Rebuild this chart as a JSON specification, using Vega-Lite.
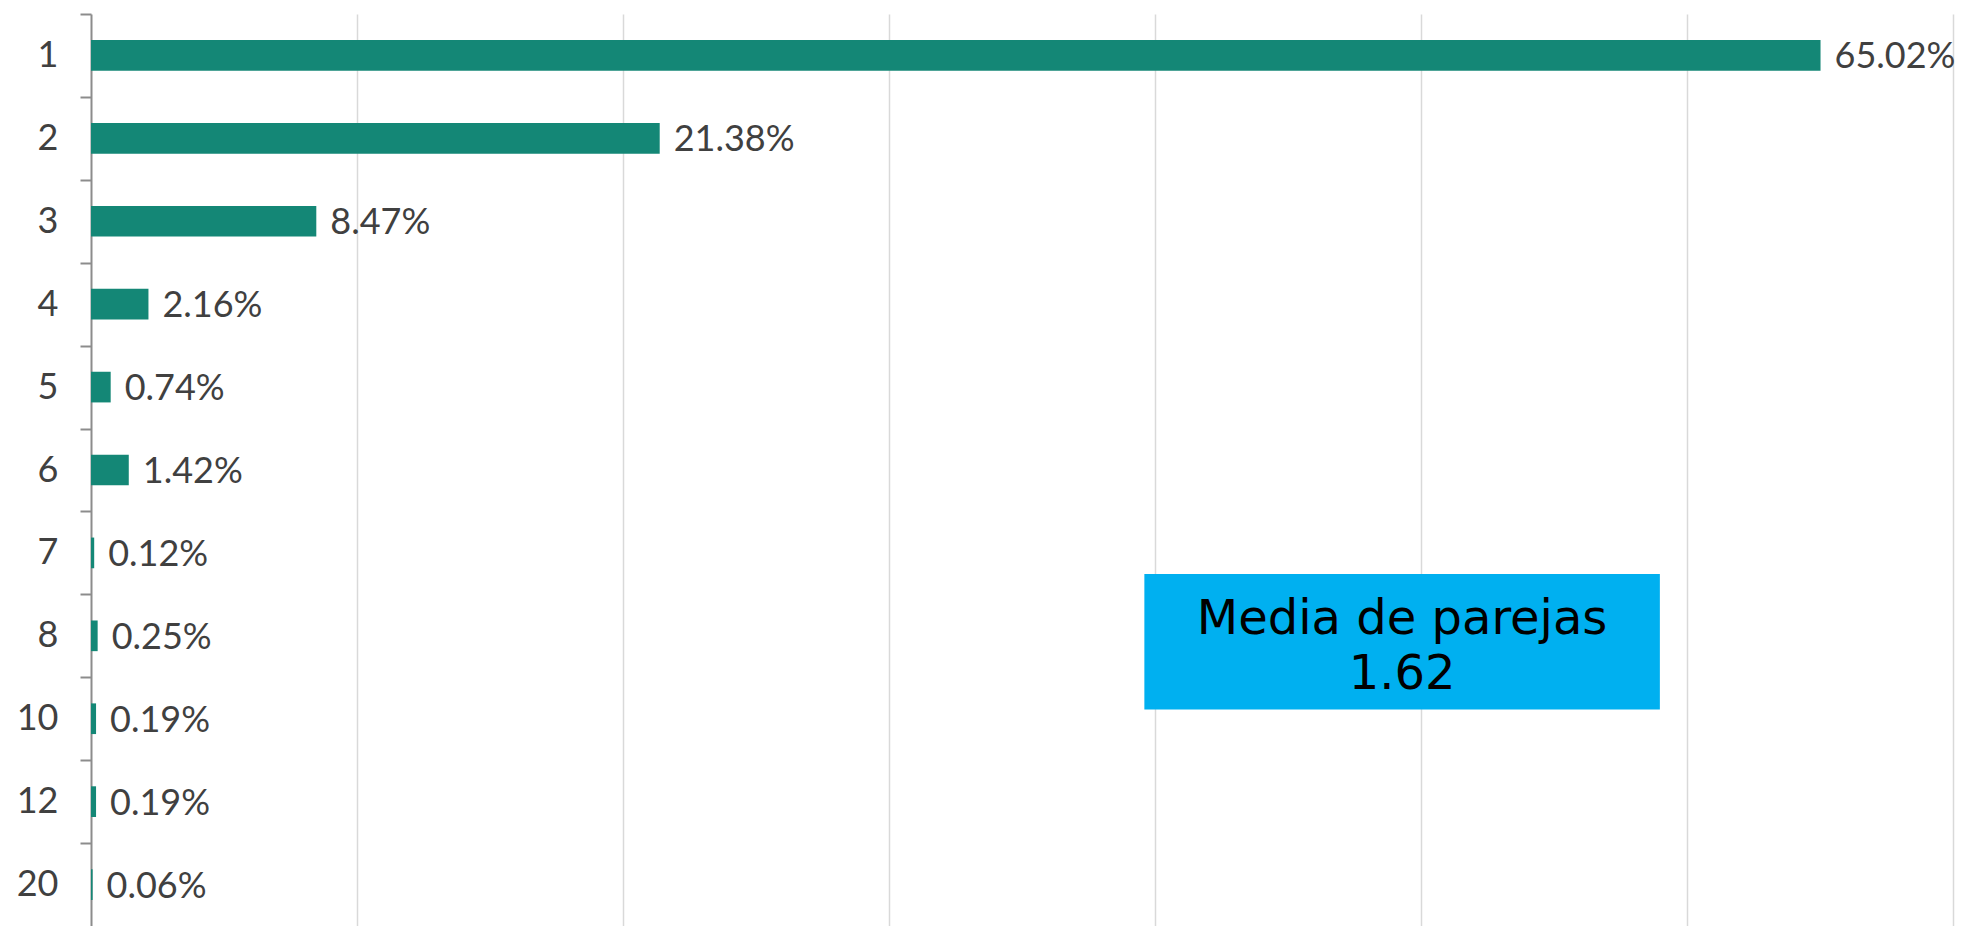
{
  "$schema": "https://vega.github.io/schema/vega-lite/v6.json",
  "autosize": "none",
  "width": 1862,
  "height": 912,
  "padding": {"left": 91, "top": 14, "right": 16, "bottom": 0},
  "background": "white",
  "config": {
    "view": {"stroke": null},
    "font": "Lato",
    "text": {"font": "Lato"}
  },
  "layer": [
    {
      "data": {
        "values": [
          {"parejas": "1", "pct": 65.02, "label": "65.02%"},
          {"parejas": "2", "pct": 21.38, "label": "21.38%"},
          {"parejas": "3", "pct": 8.47, "label": "8.47%"},
          {"parejas": "4", "pct": 2.16, "label": "2.16%"},
          {"parejas": "5", "pct": 0.74, "label": "0.74%"},
          {"parejas": "6", "pct": 1.42, "label": "1.42%"},
          {"parejas": "7", "pct": 0.12, "label": "0.12%"},
          {"parejas": "8", "pct": 0.25, "label": "0.25%"},
          {"parejas": "10", "pct": 0.19, "label": "0.19%"},
          {"parejas": "12", "pct": 0.19, "label": "0.19%"},
          {"parejas": "20", "pct": 0.06, "label": "0.06%"}
        ]
      },
      "encoding": {
        "y": {
          "field": "parejas",
          "type": "nominal",
          "sort": null,
          "scale": {"paddingInner": 0.63, "paddingOuter": 0.315},
          "axis": {
            "title": null,
            "tickBand": "center",
            "tickOffset": -41.45,
            "labelOffset": 41.45,
            "tickSize": 11,
            "tickColor": "#8c8c8c",
            "tickWidth": 2,
            "domainColor": "#8c8c8c",
            "domainWidth": 2,
            "labelFont": "Lato",
            "labelFontSize": 36,
            "labelColor": "#404040",
            "labelPadding": 22,
            "grid": false
          }
        },
        "x": {
          "field": "pct",
          "type": "quantitative",
          "scale": {"domain": [0, 70], "nice": false},
          "axis": {
            "title": null,
            "labels": false,
            "ticks": false,
            "domain": false,
            "grid": true,
            "values": [10, 20, 30, 40, 50, 60, 70],
            "gridColor": "#d9d9d9",
            "gridWidth": 1.5
          }
        }
      },
      "layer": [
        {"mark": {"type": "bar", "color": "#148776"}},
        {
          "mark": {
            "type": "text",
            "align": "left",
            "baseline": "middle",
            "dx": 14,
            "dy": 2,
            "font": "Lato",
            "fontSize": 36,
            "color": "#404040"
          },
          "encoding": {"text": {"field": "label"}}
        }
      ]
    },
    {
      "data": {
        "values": [
          {"x1": 39.6, "x2": 58.98, "y1": 6.755, "y2": 8.39}
        ]
      },
      "mark": {"type": "rect", "color": "#00B0F0"},
      "encoding": {
        "x": {"field": "x1", "type": "quantitative"},
        "x2": {"field": "x2"},
        "y": {"field": "y1", "type": "quantitative", "scale": {"domain": [0, 11], "reverse": true, "nice": false, "zero": false}, "axis": null},
        "y2": {"field": "y2"}
      }
    },
    {
      "data": {
        "values": [
          {"tx": 49.29, "ty": 7.48, "t": "Media de parejas"},
          {"tx": 49.29, "ty": 8.14, "t": "1.62"}
        ]
      },
      "mark": {"type": "text", "align": "center", "baseline": "alphabetic", "font": "DejaVu Sans", "fontSize": 48, "color": "#000000"},
      "encoding": {
        "x": {"field": "tx", "type": "quantitative"},
        "y": {"field": "ty", "type": "quantitative", "scale": {"domain": [0, 11], "reverse": true, "nice": false, "zero": false}, "axis": null},
        "text": {"field": "t"}
      }
    }
  ],
  "resolve": {"scale": {"y": "independent"}, "axis": {"y": "independent"}}
}
